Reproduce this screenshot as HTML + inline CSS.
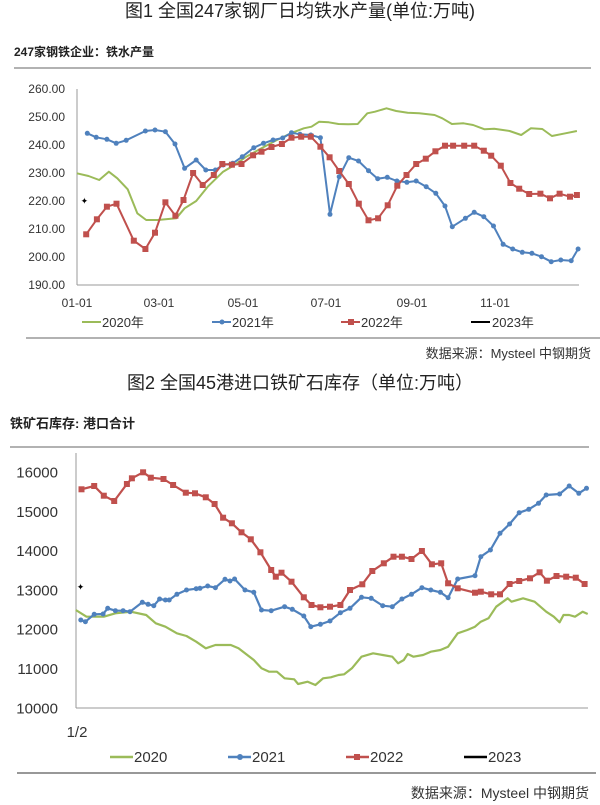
<!DOCTYPE html>
<html><head><meta charset="utf-8"><style>
body{margin:0;background:#fff;width:600px;height:805px;overflow:hidden;font-family:"Liberation Sans","Noto Sans CJK SC",sans-serif;}
svg{position:absolute;left:0;top:0}
</style></head><body>
<svg id="s" width="600" height="805" xmlns="http://www.w3.org/2000/svg" font-family="Liberation Sans, Noto Sans CJK SC, sans-serif">
<text x="300" y="17" font-size="18" text-anchor="middle" fill="#222">图1 全国247家钢厂日均铁水产量(单位:万吨)</text>
<text x="14" y="56" font-size="12" font-weight="bold" fill="#222">247家钢铁企业：铁水产量</text>
<line x1="14" y1="68" x2="591" y2="68" stroke="#999" stroke-width="1.5"/>
<line x1="77" y1="89" x2="77" y2="285" stroke="#999"/>
<line x1="77" y1="285" x2="579" y2="285" stroke="#999"/>
<g font-size="12" fill="#333" text-anchor="end">
<text x="65" y="93">260.00</text><text x="65" y="121">250.00</text><text x="65" y="149">240.00</text><text x="65" y="177">230.00</text><text x="65" y="205">220.00</text><text x="65" y="233">210.00</text><text x="65" y="261">200.00</text><text x="65" y="289">190.00</text>
</g>
<g font-size="12" fill="#333" text-anchor="middle">
<text x="77" y="307">01-01</text><text x="159" y="307">03-01</text><text x="243" y="307">05-01</text><text x="326" y="307">07-01</text><text x="412" y="307">09-01</text><text x="495" y="307">11-01</text>
</g>
<g font-size="13" fill="#333">
<line x1="82" y1="322" x2="101" y2="322" stroke="#9bbb59" stroke-width="2"/><text x="102" y="327">2020年</text>
<line x1="212" y1="322" x2="231" y2="322" stroke="#4f81bd" stroke-width="2"/><circle cx="222" cy="322" r="2.5" fill="#4f81bd"/><text x="232" y="327">2021年</text>
<line x1="341" y1="322" x2="360" y2="322" stroke="#c0504d" stroke-width="2"/><rect x="348" y="319" width="6" height="6" fill="#c0504d"/><text x="361" y="327">2022年</text>
<line x1="471" y1="322" x2="490" y2="322" stroke="#000" stroke-width="2"/><text x="492" y="327">2023年</text>
</g>
<line x1="26" y1="338" x2="600" y2="338" stroke="#999" stroke-width="1.5"/>
<text x="591" y="358" font-size="13" text-anchor="end" fill="#333">数据来源：Mysteel 中钢期货</text>

<text x="300" y="389" font-size="18" text-anchor="middle" fill="#222">图2 全国45港进口铁矿石库存（单位:万吨）</text>
<text x="10" y="428" font-size="13" font-weight="bold" fill="#222">铁矿石库存: 港口合计</text>
<line x1="10" y1="447" x2="589" y2="447" stroke="#999" stroke-width="1.5"/>
<line x1="76" y1="453" x2="76" y2="708" stroke="#999"/>
<line x1="76" y1="708" x2="588" y2="708" stroke="#999"/>
<g font-size="15" fill="#333" text-anchor="end" id="y2"></g>
<text x="77" y="737" font-size="15" fill="#333" text-anchor="middle">1/2</text>
<g font-size="15" fill="#333">
<line x1="110" y1="757" x2="133" y2="757" stroke="#9bbb59" stroke-width="2.5"/><text x="134" y="762">2020</text>
<line x1="228" y1="757" x2="251" y2="757" stroke="#4f81bd" stroke-width="2.5"/><circle cx="240" cy="757" r="3" fill="#4f81bd"/><text x="252" y="762">2021</text>
<line x1="346" y1="757" x2="369" y2="757" stroke="#c0504d" stroke-width="2.5"/><rect x="354" y="754" width="6" height="6" fill="#c0504d"/><text x="370" y="762">2022</text>
<line x1="464" y1="757" x2="487" y2="757" stroke="#000" stroke-width="2.5"/><text x="488" y="762">2023</text>
</g>
<line x1="17" y1="773" x2="596" y2="773" stroke="#777" stroke-width="1.5"/>
<text x="589" y="798" font-size="14" text-anchor="end" fill="#333">数据来源：Mysteel 中钢期货</text>
<g id="d"></g>
</svg>
<script>
var NS="http://www.w3.org/2000/svg",d=document.getElementById('d');
function el(t,a){var e=document.createElementNS(NS,t);for(var k in a)e.setAttribute(k,a[k]);d.appendChild(e);return e;}
function ser(arr,oy,col,mk,w){var p=[];for(var i=0;i<arr.length;i+=2){p.push((arr[i]/2.6).toFixed(1)+','+(oy+arr[i+1]/3).toFixed(1));}
el('polyline',{points:p.join(' '),fill:'none',stroke:col,'stroke-width':w,'stroke-linejoin':'round'});
p.forEach(function(q){var c=q.split(',');if(mk=='c')el('circle',{cx:c[0],cy:c[1],r:2.5,fill:col});else if(mk=='s')el('rect',{x:c[0]-3,y:c[1]-3,width:6,height:6,fill:col});});}
var y2=document.getElementById('y2');
for(var v=0;v<=6;v++){var t=document.createElementNS(NS,'text');t.setAttribute('x',58);t.setAttribute('y',(360+(338+v*117.8)/3+5).toFixed(1));t.textContent=(16000-v*1000);y2.appendChild(t);}
ser([200,520,230,528,258,540,283,515,305,535,332,568,357,640,380,660,410,660,458,655,480,625,510,603,540,560,580,515,610,495,640,470,680,445,720,420,760,398,790,385,810,380,830,365,855,367,880,372,905,373,930,372,955,340,975,335,1005,325,1030,333,1060,338,1090,340,1130,345,1150,355,1175,372,1205,370,1230,375,1260,388,1285,386,1325,393,1355,405,1380,385,1410,387,1435,408,1470,400,1500,393],0,'#9bbb59','',2);
ser([227,400,250,412,278,418,302,430,328,421,378,393,403,390,430,395,455,432,480,505,510,480,535,510,560,510,580,495,605,490,630,470,660,443,685,430,710,420,735,414,758,398,780,403,808,405,833,413,858,643,882,530,907,473,932,483,958,512,982,536,1007,532,1032,543,1058,547,1082,543,1108,560,1133,580,1157,618,1176,680,1210,655,1233,637,1258,650,1283,678,1308,733,1333,747,1358,757,1383,760,1408,770,1433,785,1458,780,1485,782,1503,747],0,'#4f81bd','c',2);
ser([224,703,252,658,278,620,303,611,348,722,378,747,403,698,430,607,456,647,477,600,502,519,527,555,556,525,578,492,603,494,628,492,658,466,680,455,706,441,733,432,758,413,783,410,808,410,833,440,857,472,882,513,907,552,933,611,958,661,983,655,1008,616,1033,557,1057,525,1082,492,1107,476,1132,454,1157,437,1178,437,1207,437,1233,437,1258,452,1277,467,1302,497,1327,549,1350,566,1376,582,1405,581,1430,595,1455,581,1482,590,1500,585],0,'#c0504d','s',2);
el('text',{x:(220/2.6-4).toFixed(1),y:204,'font-size':9,fill:'#000'}).textContent='✦';
ser([197,750,225,770,270,770,300,760,340,755,380,765,405,790,430,800,460,820,485,828,510,845,535,865,560,855,600,855,620,865,660,900,680,925,700,935,720,935,740,955,765,958,775,972,800,965,820,975,840,955,860,952,880,945,895,943,915,925,940,890,970,880,995,885,1020,890,1035,910,1050,900,1060,882,1075,890,1100,885,1120,875,1145,870,1165,860,1190,820,1215,810,1235,800,1250,785,1270,775,1290,740,1320,715,1330,725,1360,715,1390,725,1420,755,1440,770,1455,787,1465,765,1480,765,1495,770,1515,755,1528,762],360,'#9bbb59','',2.2);
ser([210,780,222,785,245,763,268,762,280,745,300,752,320,752,338,755,370,727,385,733,400,737,415,717,430,720,440,720,460,703,485,690,510,686,520,685,540,678,560,683,585,658,598,663,610,657,637,690,660,697,680,750,705,752,740,740,760,748,790,768,808,800,833,793,858,783,885,758,910,745,940,712,965,715,995,737,1020,740,1045,717,1070,703,1097,683,1120,690,1145,697,1165,713,1190,657,1235,647,1250,590,1275,570,1300,520,1325,492,1350,458,1375,448,1400,430,1420,405,1455,402,1480,378,1505,400,1525,385],360,'#4f81bd','c',2.2);
ser([212,388,245,378,270,407,297,423,330,372,343,355,372,337,392,353,425,357,450,375,483,398,507,400,535,412,558,432,580,473,603,490,628,517,652,538,677,577,705,630,717,650,732,638,758,665,790,712,810,735,833,742,858,740,885,735,910,690,942,673,968,633,998,610,1023,590,1045,590,1070,597,1097,573,1123,613,1147,610,1165,670,1190,685,1235,698,1250,695,1277,703,1300,703,1325,672,1350,663,1378,655,1403,637,1422,662,1447,648,1472,650,1497,653,1520,672],360,'#c0504d','s',2.2);
el('text',{x:(210/2.6-4).toFixed(1),y:590,'font-size':9,fill:'#000'}).textContent='✦';
</script>
</body></html>
